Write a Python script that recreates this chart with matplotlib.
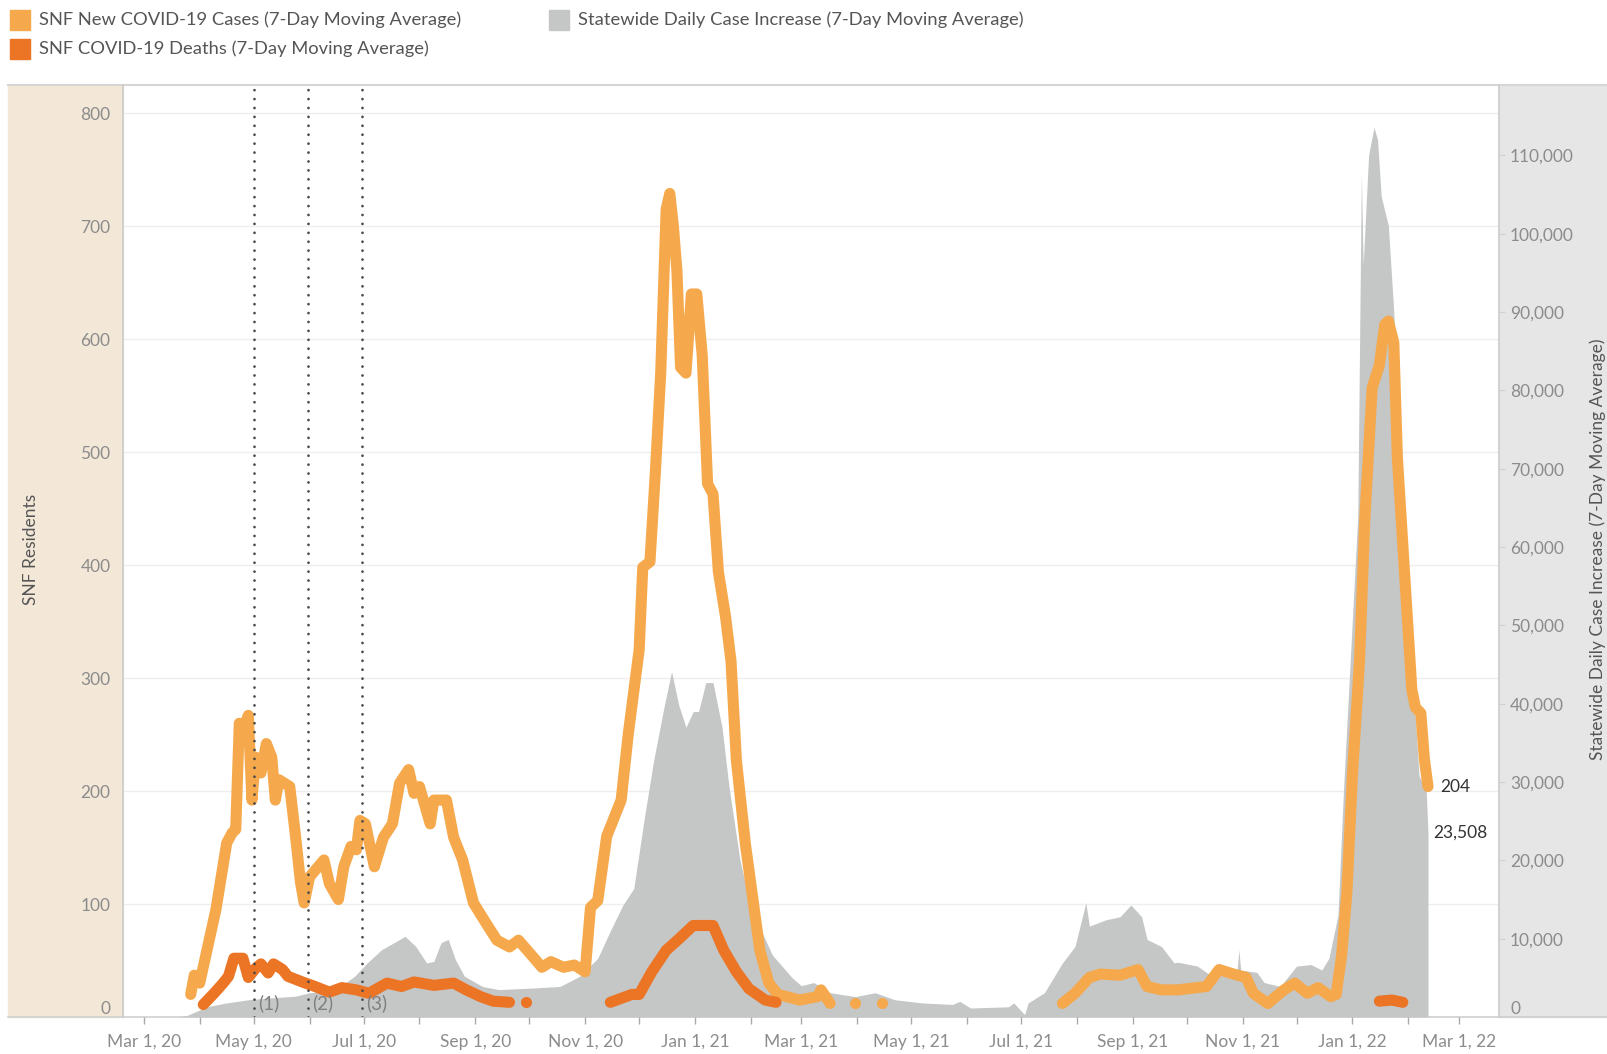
import numpy as np
import matplotlib
matplotlib.use("Agg")
import matplotlib.pyplot as plt
import matplotlib.dates as mdates
from matplotlib.patches import Rectangle
from matplotlib.lines import Line2D
from matplotlib.ticker import FuncFormatter
import datetime as dt

plt.rcParams['font.family'] = ['Lato', 'DejaVu Sans']

# ---- data ----
case_dates = ["2020-03-27", "2020-03-29", "2020-04-01", "2020-04-05", "2020-04-10", "2020-04-16",
              "2020-04-19", "2020-04-21", "2020-04-23", "2020-04-25", "2020-04-28", "2020-04-30",
              "2020-05-02", "2020-05-05", "2020-05-08", "2020-05-11", "2020-05-13", "2020-05-15",
              "2020-05-21", "2020-05-24", "2020-05-27", "2020-05-29", "2020-06-01", "2020-06-09",
              "2020-06-12", "2020-06-17", "2020-06-20", "2020-06-24", "2020-06-27", "2020-06-29",
              "2020-07-02", "2020-07-07", "2020-07-12", "2020-07-17", "2020-07-21", "2020-07-26",
              "2020-07-29", "2020-08-01", "2020-08-07", "2020-08-09", "2020-08-16", "2020-08-20",
              "2020-08-25", "2020-08-31", "2020-09-07", "2020-09-13", "2020-09-20", "2020-09-25",
              "2020-10-01", "2020-10-08", "2020-10-13", "2020-10-20", "2020-10-26", "2020-11-01",
              "2020-11-04", "2020-11-08", "2020-11-13", "2020-11-21", "2020-11-25", "2020-12-01",
              "2020-12-03", "2020-12-07", "2020-12-10", "2020-12-13", "2020-12-16", "2020-12-18",
              "2020-12-20", "2020-12-22", "2020-12-24", "2020-12-27", "2020-12-30", "2021-01-02",
              "2021-01-05", "2021-01-08", "2021-01-11", "2021-01-14", "2021-01-18", "2021-01-21",
              "2021-01-24", "2021-01-29", "2021-02-03", "2021-02-06", "2021-02-11", "2021-02-16",
              "2021-02-21", "2021-02-28", "2021-03-10", "2021-03-12", "2021-03-17", "2021-03-24",
              "2021-03-31", "2021-04-08", "2021-04-15", "2021-05-30",
              "2021-07-24", "2021-07-31", "2021-08-08", "2021-08-14", "2021-08-25", "2021-09-04",
              "2021-09-09", "2021-09-17", "2021-09-26", "2021-10-12", "2021-10-19", "2021-10-27",
              "2021-11-03", "2021-11-07", "2021-11-15", "2021-11-24", "2021-11-30", "2021-12-07",
              "2021-12-13", "2021-12-20", "2021-12-23", "2021-12-26", "2021-12-29", "2022-01-01",
              "2022-01-05", "2022-01-08", "2022-01-12", "2022-01-16", "2022-01-19", "2022-01-21",
              "2022-01-24", "2022-01-26", "2022-01-30", "2022-02-03", "2022-02-05", "2022-02-08",
              "2022-02-10", "2022-02-12"]
case_vals = [20, 37, 30, 59, 95, 154,
             163, 166, 260, 254, 267, 192,
             230, 216, 242, 230, 192, 210,
             204, 163, 119, 101, 124, 139,
             118, 104, 133, 151, 148, 174,
             171, 133, 159, 171, 207, 219,
             198, 204, 171, 192, 192, 159,
             139, 101, 83, 68, 62, 68,
             57, 44, 49, 44, 46, 40,
             97, 103, 160, 192, 251, 325,
             398, 403, 482, 571, 715, 729,
             700, 660, 575, 570, 640, 640,
             586, 472, 463, 394, 354, 315,
             227, 153, 94, 59, 30, 20,
             18, 15, 18, 24, 12, np.nan,
             12, np.nan, 12, np.nan,
             12, 21, 35, 38, 37, 42,
             27, 24, 24, 27, 42, 38,
             35, 21, 12, 24, 30, 21,
             26, 18, 20, 54, 111, 213,
             316, 444, 557, 577, 613, 616,
             597, 495, 392, 290, 274, 269,
             228, 204]

death_dates = ["2020-04-03", "2020-04-09", "2020-04-14", "2020-04-17", "2020-04-20", "2020-04-25",
               "2020-04-28", "2020-05-02", "2020-05-05", "2020-05-09", "2020-05-12", "2020-05-17",
               "2020-05-20", "2020-05-28", "2020-06-04", "2020-06-12", "2020-06-19", "2020-06-27",
               "2020-07-04", "2020-07-14", "2020-07-22", "2020-07-29", "2020-08-09", "2020-08-20",
               "2020-08-27", "2020-09-04", "2020-09-11", "2020-09-20", "2020-09-25", "2020-09-29",
               "2020-10-20", "2020-11-15", "2020-11-27", "2020-12-01", "2020-12-08", "2020-12-16",
               "2020-12-23", "2020-12-31", "2021-01-11", "2021-01-17", "2021-01-24", "2021-01-31",
               "2021-02-09", "2021-02-15", "2021-08-01", "2022-01-16", "2022-01-23", "2022-01-29"]
death_vals = [11, 21, 30, 36, 52, 52,
              35, 43, 47, 39, 47, 42,
              36, 31, 27, 22, 26, 24,
              21, 30, 27, 31, 28, 30,
              24, 18, 14, 13, np.nan, 13,
              np.nan, 13, 20, 20, 40, 59,
              69, 81, 81, 59, 40, 25,
              15, 13, np.nan, 14, 15, 13]

state_dates = ["2020-03-20", "2020-03-25", "2020-04-01", "2020-04-06", "2020-04-16", "2020-04-28",
               "2020-05-11", "2020-05-24", "2020-06-01", "2020-06-11", "2020-06-18", "2020-06-26",
               "2020-07-03", "2020-07-11", "2020-07-18", "2020-07-24", "2020-07-30", "2020-08-05",
               "2020-08-09", "2020-08-13", "2020-08-17", "2020-08-21", "2020-08-26", "2020-09-05",
               "2020-09-14", "2020-10-03", "2020-10-18", "2020-10-29", "2020-11-08", "2020-11-15",
               "2020-11-22", "2020-11-28", "2020-12-04", "2020-12-09", "2020-12-15", "2020-12-19",
               "2020-12-23", "2020-12-27", "2020-12-31", "2021-01-03", "2021-01-07", "2021-01-11",
               "2021-01-16", "2021-01-20", "2021-01-26", "2021-01-31", "2021-02-06", "2021-02-13",
               "2021-02-24", "2021-03-01", "2021-03-08", "2021-03-17", "2021-03-31", "2021-04-11",
               "2021-04-22", "2021-05-07", "2021-05-24", "2021-05-28", "2021-06-03", "2021-06-24",
               "2021-06-27", "2021-07-03", "2021-07-05", "2021-07-14", "2021-07-24", "2021-07-31",
               "2021-08-06", "2021-08-08", "2021-08-17", "2021-08-25", "2021-08-31", "2021-09-06",
               "2021-09-09", "2021-09-17", "2021-09-24", "2021-09-26", "2021-10-07", "2021-10-15",
               "2021-10-29", "2021-10-30", "2021-10-31", "2021-11-09", "2021-11-13", "2021-11-22",
               "2021-12-01", "2021-12-09", "2021-12-15", "2021-12-19", "2021-12-24", "2021-12-27",
               "2021-12-30", "2022-01-04", "2022-01-06", "2022-01-07", "2022-01-10", "2022-01-13",
               "2022-01-15", "2022-01-17", "2022-01-21", "2022-01-24", "2022-01-27", "2022-01-30",
               "2022-02-04", "2022-02-07", "2022-02-11", "2022-02-12"]
state_vals = [0, 200, 900, 1350, 1800, 2200,
              2450, 2650, 3100, 3250, 3900, 5200,
              6900, 8600, 9500, 10300, 9000, 6900,
              7100, 9500, 9900, 7300, 5200, 3900,
              3500, 3700, 3900, 5200, 7500, 11000,
              14300, 16400, 25600, 32700, 39800, 44100,
              39800, 37000, 39000, 39000, 42700, 42700,
              37000, 29200, 20000, 15000, 11400, 7900,
              5000, 4000, 4400, 3100, 2600, 3100,
              2200, 1800, 1600, 2000, 1150, 1300,
              1800, 300, 1800, 3100, 6900, 9000,
              14600, 11600, 12400, 12800, 14300, 12800,
              9900, 9000, 6900, 7000, 6500, 5200,
              6000, 8600, 6000, 5700, 4400, 3900,
              6500, 6700, 6000, 7500, 13000, 28600,
              41900, 64000, 107700, 96000, 110000, 113600,
              112000, 104800, 101000, 90000, 75200, 56700,
              41900, 30800, 28900, 23508]

event_dates = ["2020-05-01", "2020-05-31", "2020-06-30"]
event_labels = ["(1)", "(2)", "(3)"]

left_ticks = list(range(0, 801, 100))
right_ticks = list(range(0, 110001, 10000))

case_color = '#F5A94C'
death_color = '#EB7425'
state_color = '#C5C6C6'
label_color = '#8C8C8C'
text_color = '#555555'


def to_dates(lst):
    return [dt.datetime.strptime(s, "%Y-%m-%d") for s in lst]


W, H = 1608, 1054
fig = plt.figure(figsize=(W / 100, H / 100), dpi=100)


def fx(px):
    return px / W


def fy(py):
    return 1 - py / H


# side panels
fig.add_artist(Rectangle((fx(8), fy(1017)), fx(123) - fx(8), fy(85) - fy(1017),
                         transform=fig.transFigure, color='#F3E8D8', zorder=0))
fig.add_artist(Rectangle((fx(1499), fy(1017)), 1 - fx(1499), fy(85) - fy(1017),
                         transform=fig.transFigure, color='#E6E6E6', zorder=0))
fig.add_artist(Line2D([fx(8), 1], [fy(85), fy(85)], transform=fig.transFigure,
                      color='#D6D6D6', lw=1.5, zorder=1))
fig.add_artist(Line2D([fx(8), 1], [fy(1017), fy(1017)], transform=fig.transFigure,
                      color='#CFCFCF', lw=1.2, zorder=1))

ax = fig.add_axes([fx(123), fy(1017), fx(1499) - fx(123), fy(85) - fy(1017)])
ax2 = ax.twinx()
ax2.set_zorder(1)
ax.set_zorder(2)
ax.patch.set_visible(False)
ax2.patch.set_facecolor('white')

# statewide area (right axis)
sd = to_dates(state_dates)
ax2.fill_between(sd, 0, state_vals, color=state_color, lw=0, zorder=2)
ax2.set_ylim(0, 119000)
ax2.set_yticks(right_ticks)
ax2.yaxis.set_major_formatter(FuncFormatter(lambda v, p: f"{int(v):,}"))
ax2.tick_params(axis='y', length=4, width=0.8, color='#D0D0D0', pad=4,
                labelsize=12.5, labelcolor=label_color)
for s in ax2.spines.values():
    s.set_visible(False)

# gridlines in left-axis units, drawn underneath the area
for v in left_ticks[1:]:
    ax2.plot([0, 1], [v, v], transform=ax.get_yaxis_transform(), color='#EEEEEE',
             lw=1, zorder=1)

# SNF lines (left axis)
cd = to_dates(case_dates)
dd = to_dates(death_dates)
for dates, vals, col in [(cd, case_vals, case_color), (dd, death_vals, death_color)]:
    v = np.array(vals, dtype=float)
    ax.plot(dates, v, color=col, lw=8, solid_capstyle='round', solid_joinstyle='round', zorder=3)
    for i in range(len(v)):
        prev_nan = i == 0 or np.isnan(v[i - 1])
        next_nan = i == len(v) - 1 or np.isnan(v[i + 1])
        if not np.isnan(v[i]) and prev_nan and next_nan:
            ax.plot(dates[i], v[i], 'o', ms=8, color=col, mec='none', zorder=3)

ax.set_ylim(0, 825)
ax.set_yticks(left_ticks)
ax.tick_params(axis='y', length=0, pad=9, labelsize=12.5, labelcolor=label_color)
ax.set_xlim(dt.datetime(2020, 2, 18, 10), dt.datetime(2022, 3, 23, 10))
ax.xaxis.set_major_locator(mdates.MonthLocator(bymonth=[1, 3, 5, 7, 9, 11]))
ax.xaxis.set_minor_locator(mdates.MonthLocator())
ax.xaxis.set_major_formatter(FuncFormatter(
    lambda v, p: (lambda d: f"{d.strftime('%b')} {d.day}, {d.strftime('%y')}")(mdates.num2date(v))))
ax.tick_params(axis='x', which='both', length=5, width=1, color='#AAAAAA', pad=7,
               labelsize=12.5, labelcolor=label_color)
ax.tick_params(axis='x', which='minor', length=5)
for k in ['top', 'bottom']:
    ax.spines[k].set_visible(False)
for k in ['left', 'right']:
    ax.spines[k].set_color('#CCCCCC')
    ax.spines[k].set_linewidth(1.2)

# "0" labels sit just above the baseline
ax.get_yticklabels()[0].set_verticalalignment('bottom')
ax2.get_yticklabels()[0].set_verticalalignment('bottom')

# event markers
for d, lab in zip(to_dates(event_dates), event_labels):
    ax.axvline(d, color='#4A4A4A', ls=(0, (0.01, 3.2)), lw=2.0, dash_capstyle='round', zorder=6)
    ax.annotate(lab, xy=(d, 0), xytext=(3, 10), textcoords='offset points',
                ha='left', va='center', fontsize=13.5, color='#808080', zorder=7)

# end labels
ax.annotate("204", xy=(cd[-1], case_vals[-1]), xytext=(9, 0), textcoords='offset points',
            ha='left', va='center', fontsize=12.5, color='#333333', zorder=7)
ax2.annotate(f"{state_vals[-1]:,}", xy=(sd[-1], state_vals[-1]), xytext=(4, 0),
             textcoords='offset points', ha='left', va='center', fontsize=12.5, color='#333333')

# axis titles
fig.text(fx(31), fy(549), "SNF Residents", rotation=90, ha='center', va='center',
         fontsize=12.5, color=text_color)
fig.text(fx(1598), fy(549), "Statewide Daily Case Increase (7-Day Moving Average)",
         rotation=90, ha='center', va='center', fontsize=12.5, color=text_color)

# legend
legend_items = [(10, 20, case_color, "SNF New COVID-19 Cases (7-Day Moving Average)"),
                (10, 49, death_color, "SNF COVID-19 Deaths (7-Day Moving Average)"),
                (549, 20, state_color, "Statewide Daily Case Increase (7-Day Moving Average)")]
for x0, yc, col, lab in legend_items:
    fig.add_artist(Rectangle((fx(x0), fy(yc + 10)), fx(20), 20 / H, transform=fig.transFigure,
                             color=col))
    fig.text(fx(x0 + 29), fy(yc), lab, ha='left', va='center', fontsize=13.2, color=text_color)

fig.savefig("out.png", dpi=100)
